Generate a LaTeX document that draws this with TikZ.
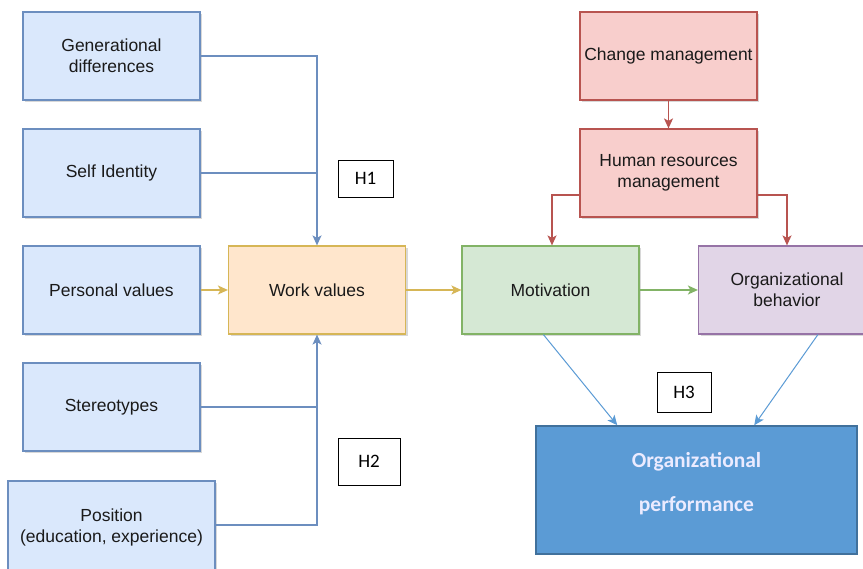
\documentclass[tikz,border=0pt]{standalone}
\usepackage{fontspec}
\setmainfont{Liberation Sans}
\newfontfamily\calfont{Carlito}
\usetikzlibrary{arrows.meta,shadows,calc}
\definecolor{bfill}{HTML}{DAE8FC}\definecolor{bdraw}{HTML}{6C8EBF}
\definecolor{ofill}{HTML}{FFE6CC}\definecolor{odraw}{HTML}{D6B656}
\definecolor{gfill}{HTML}{D5E8D4}\definecolor{gdraw}{HTML}{82B366}
\definecolor{rfill}{HTML}{F8CECC}\definecolor{rdraw}{HTML}{B85450}
\definecolor{pfill}{HTML}{E1D5E7}\definecolor{pdraw}{HTML}{9673A6}
\definecolor{perffill}{HTML}{5B9BD5}\definecolor{perfdraw}{HTML}{41719C}
\definecolor{txt}{HTML}{1A1A1A}
\tikzset{
  box/.style={rectangle, draw, line width=1.2pt, minimum width=177pt, minimum height=88pt,
    inner sep=2pt, align=center, text=txt, font=\fontsize{17.5}{21}\selectfont,
    drop shadow={shadow xshift=2pt, shadow yshift=-2pt, opacity=0.25, fill=black!60}},
  bluebox/.style={box, fill=bfill, draw=bdraw},
  orangebox/.style={box, fill=ofill, draw=odraw},
  greenbox/.style={box, fill=gfill, draw=gdraw},
  redbox/.style={box, fill=rfill, draw=rdraw},
  purplebox/.style={box, fill=pfill, draw=pdraw},
  hbox/.style={rectangle, draw=black, line width=0.8pt, fill=white, inner sep=0pt,
    font=\calfont\fontsize{19}{22}\selectfont},
  arr/.style={line width=1.3pt, -{Stealth[length=10pt,width=9pt,inset=2.5pt]}},
  ln/.style={line width=1.3pt},
}
\begin{document}
\begin{tikzpicture}[x=1pt,y=-1pt]
\useasboundingbox[fill=white] (0,0) rectangle (863,569);
% left column
\node[bluebox] (gen) at (111.5,56) {Generational\\differences};
\node[bluebox] (si)  at (111.5,173) {Self Identity};
\node[bluebox] (pv)  at (111.5,290) {Personal values};
\node[bluebox] (st)  at (111.5,407) {Stereotypes};
\node[bluebox, minimum width=207pt, minimum height=92pt] (pos) at (111.5,527) {Position\\(education, experience)};
% middle
\node[orangebox] (wv) at (317,290) {Work values};
\node[greenbox] (mot) at (550.5,290) {Motivation};
\node[purplebox] (ob) at (787,290) {Organizational\\behavior};
\node[redbox] (cm) at (668.5,56) {Change management};
\node[redbox] (hr) at (668.5,173) {Human resources\\management};
\node[rectangle, draw=perfdraw, line width=1.5pt, fill=perffill, minimum width=321pt, minimum height=128pt] (perf) at (696.5,490) {};
\node[align=center, text=white!92!blue, font=\calfont\bfseries\fontsize{21.5}{44}\selectfont] (perft) at (696.5,484) {Organizational\\performance};
% H labels
\node[hbox, minimum width=55pt, minimum height=37pt] (h1) at (365.5,178.5) {H1};
\node[hbox, minimum width=62pt, minimum height=47pt] (h2) at (369,461.5) {H2};
\node[hbox, minimum width=54pt, minimum height=40pt] (h3) at (684,392) {H3};
% blue connectors to work values
\draw[arr, bdraw] (gen.east) -| (wv.north);
\draw[ln, bdraw] (si.east) -- (si.east -| wv.north);
\draw[arr, bdraw] ($(pos.east)+(0,-2)$) -| (wv.south);
\draw[ln, bdraw] (st.east) -- (st.east -| wv.south);
% orange / green
\draw[arr, odraw] (pv.east) -- (wv.west);
\draw[arr, odraw] (wv.east) -- (mot.west);
\draw[arr, gdraw] (mot.east) -- (ob.west);
% red
\draw[arr, rdraw] (cm.south) -- (hr.north);
\coordinate (hrl) at ($(hr.west)+(0,22)$);
\coordinate (hrr) at ($(hr.east)+(0,22)$);
\draw[arr, rdraw] (hr.west |- hrl) -| ($(mot.north)+(1.5,0)$);
\draw[arr, rdraw] (hr.east |- hrr) -| (ob.north);
% to performance
\draw[arr, perffill, line width=1pt] ($(mot.south west)+(82,0)$) -- ($(perf.north west)+(82,0)$);
\draw[arr, perffill, line width=1pt] ($(ob.south west)+(120,0)$) -- ($(perf.north west)+(219,0)$);
\end{tikzpicture}
\end{document}
